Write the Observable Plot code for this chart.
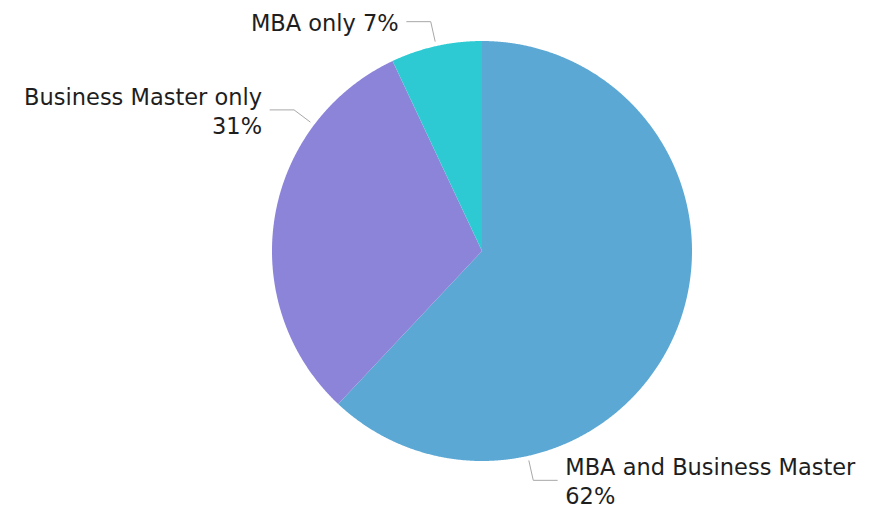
<!DOCTYPE html>
<html><head><meta charset="utf-8">
<script src="https://cdn.jsdelivr.net/npm/d3@7"></script>
<script src="https://cdn.jsdelivr.net/npm/@observablehq/plot@0.6"></script>
<style>body{margin:0;background:#fff}</style>
</head><body><div id="chart"></div>
<script>
// ---- data ----
const categories = ["MBA and Business Master", "Business Master only", "MBA only"];
const shares = [62, 31, 7];
const colors = ["#5ba8d5", "#8b84d8", "#2ecad3"];

// ---- layout ----
const W = 879, H = 505, CX = 481.5, CY = 250.5, R = 210;
const labelFrac = [0.75, 0.75, 0.5]; // where along each slice the leader attaches

const data = categories.map((c, i) => ({category: c, share: shares[i]}));
const arcs = d3.pie().sort(null).value(d => d.share)(data);
const polar = (r, a) => ({x: r * Math.sin(a), y: r * Math.cos(a)});

const slicePts = arcs.flatMap(a => {
  const n = Math.max(2, Math.ceil((a.endAngle - a.startAngle) / (Math.PI / 720)));
  const pts = [{category: a.data.category, x: 0, y: 0}];
  for (let k = 0; k <= n; k++) {
    const t = a.startAngle + (a.endAngle - a.startAngle) * k / n;
    pts.push({category: a.data.category, ...polar(1, t)});
  }
  return pts;
});

const leaders = [], labels = [];
arcs.forEach((a, i) => {
  const t = a.startAngle + (a.endAngle - a.startAngle) * labelFrac[i];
  const p1 = polar(215 / R, t), p2 = polar(235 / R, t);
  const side = Math.sin(t) >= 0 ? 1 : -1;
  leaders.push({id: i, ...p1}, {id: i, ...p2}, {id: i, x: p2.x + side * 24 / R, y: p2.y});
  const name = a.data.category;
  labels.push({
    x: p2.x + side * 32 / R, y: p2.y, side,
    text: name + (name.length > 12 ? "\n" : " ") + a.data.share + "%"
  });
});

const chart = Plot.plot({
  width: W, height: H,
  marginTop: 0, marginRight: 0, marginBottom: 0, marginLeft: 0,
  style: {fontFamily: "DejaVu Sans", background: "#fff"},
  x: {domain: [-CX / R, (W - CX) / R], range: [0, W], axis: null},
  y: {domain: [-(H - CY) / R, CY / R], range: [H, 0], axis: null},
  color: {domain: categories, range: colors},
  marks: [
    Plot.line(slicePts, {x: "x", y: "y", z: "category", fill: "category", stroke: "none"}),
    Plot.line(leaders, {x: "x", y: "y", z: "id", stroke: "#a8a8a8", strokeWidth: 1}),
    Plot.text(labels.filter(d => d.side > 0), {x: "x", y: "y", text: "text", textAnchor: "start", lineAnchor: "middle", lineHeight: 1.3, fontSize: 22.5, fill: "#1e1e1e"}),
    Plot.text(labels.filter(d => d.side < 0), {x: "x", y: "y", text: "text", textAnchor: "end", lineAnchor: "middle", lineHeight: 1.3, fontSize: 22.5, fill: "#1e1e1e"})
  ]
});
document.getElementById("chart").append(chart);
</script>
</body></html>
